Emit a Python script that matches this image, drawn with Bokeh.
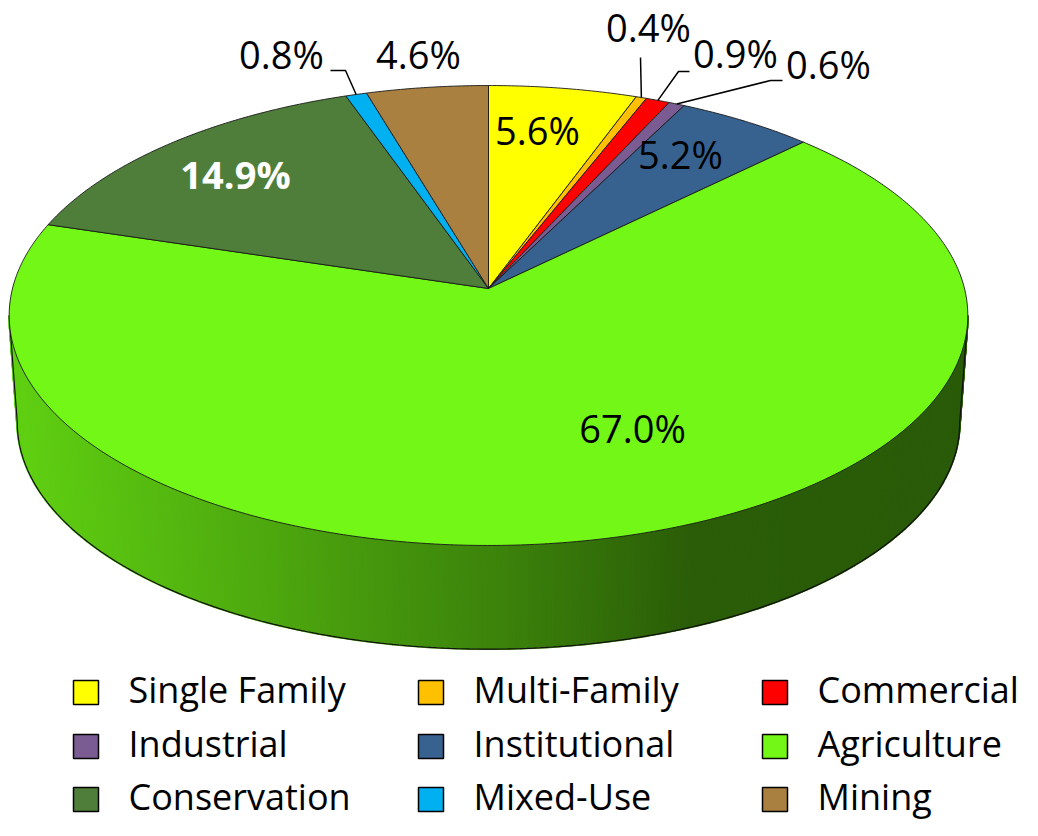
import numpy as np
from bokeh.plotting import figure
from bokeh.models import Range1d, ColumnDataSource
from bokeh.core.properties import value
from bokeh.embed import file_html
from bokeh.resources import INLINE

# ---------------- data ----------------
categories = ["Single Family", "Multi-Family", "Commercial", "Industrial", "Institutional",
              "Agriculture", "Conservation", "Mixed-Use", "Mining"]
shares = [5.6, 0.4, 0.9, 0.6, 5.2, 67.0, 14.9, 0.8, 4.6]
colors = ["#FFFF00", "#FFC000", "#FF0000", "#7A5B92", "#37618F",
          "#72F716", "#4F7E3A", "#00B0F0", "#A9803F"]
labels = ["%.1f%%" % s for s in shares]

# label layout (pixel positions) for each slice
label_x = [537, 648, 735, 828, 680, 632, 235, 281, 418]
label_y = [129, 26, 52, 63, 153, 427, 173, 53, 53]
label_color = ["black"] * 9
label_color[6] = "white"
label_style = ["normal"] * 9
label_style[6] = "bold"
# leader line elbows for small slices
leader_pts = {1: [(640, 57)], 2: [(689, 71), (678, 71)], 3: [(782, 80), (770, 80)],
              7: [(330, 70), (345, 70)]}

# ---------------- geometry ----------------
CX, CY = 488.0, 288.0
A, B, K = 476.0, 226.8, 0.1174
DEPTH, BS = 108.0, 0.983


def proj(phi):
    phi = np.asarray(phi, dtype=float)
    den = 1.0 + K * np.cos(phi)
    return CX + A * np.sin(phi) / den, CY - B * np.cos(phi) / den


def bottom(x, y):
    return CX + BS * (x - CX), CY + BS * (y - CY) + DEPTH


W, H = 1022, 820
p = figure(width=W, height=H, output_backend="svg", toolbar_location=None,
           x_range=Range1d(0, W), y_range=Range1d(H, 0),
           min_border=0)
p.axis.visible = False
p.grid.visible = False
p.outline_line_color = None
p.background_fill_color = "white"
p.border_fill_color = "white"

fr = np.array(shares) / sum(shares)
cum = np.concatenate([[0], np.cumsum(fr)]) * 2 * np.pi

# ---------------- side (gradient strips) ----------------
phi1 = np.arccos(-K)
phi2 = 2 * np.pi - phi1
N = 240
ph = np.linspace(phi1, phi2, N + 1)
tx, ty = proj(ph)
bx, by = bottom(tx, ty)


def slice_of(phi):
    for i in range(len(shares)):
        if cum[i] <= phi <= cum[i + 1]:
            return i
    return 0


fx = [20, 330, 500, 690, 960]
fv = [0.84, 0.64, 0.53, 0.38, 0.37]
sxs, sys_, scol = [], [], []
for i in range(N):
    xm = 0.5 * (tx[i] + tx[i + 1])
    f = np.interp(xm, fx, fv)
    base = colors[slice_of(0.5 * (ph[i] + ph[i + 1]))]
    r, g, b_ = int(base[1:3], 16), int(base[3:5], 16), int(base[5:7], 16)
    scol.append("#%02x%02x%02x" % (int(r * f), int(g * f), int(b_ * f)))
    sxs.append([tx[i], tx[i + 1], bx[i + 1], bx[i]])
    sys_.append([ty[i], ty[i + 1], by[i + 1], by[i]])
p.patches(sxs, sys_, fill_color=scol, line_color=scol, line_width=2.0)
# side outline
ox = [tx[0]] + list(bx) + [tx[-1]]
oy = [ty[0]] + list(by) + [ty[-1]]
p.line(ox, oy, line_color="#111111", line_width=1.2)

# ---------------- top face ----------------
pxs, pys = [], []
for i in range(len(shares)):
    n = max(3, int((cum[i + 1] - cum[i]) * 180 / np.pi * 2))
    a = np.linspace(cum[i], cum[i + 1], n)
    x, y = proj(a)
    pxs.append([CX] + list(x))
    pys.append([CY] + list(y))
p.patches(pxs, pys, fill_color=colors, line_color="#1a1a1a", line_width=1.0,
          line_alpha=0.9)

# ---------------- leader lines ----------------
for i, pts in leader_pts.items():
    mx, my = proj(0.5 * (cum[i] + cum[i + 1]))
    xs = [q[0] for q in pts] + [float(mx)]
    ys = [q[1] for q in pts] + [float(my)]
    p.line(xs, ys, line_color="black", line_width=1.5)

# ---------------- labels ----------------
lab = ColumnDataSource(dict(x=label_x, y=label_y, t=labels, c=label_color, s=label_style))
p.text("x", "y", text="t", source=lab, text_color="c", text_font_style="s",
       text_font=value("Open Sans"), text_font_size="38px",
       text_align="center", text_baseline="middle")

# ---------------- legend ----------------
col_box = [85.5, 430.5, 774.5]
col_txt = [128, 473, 817]
row_y = [692, 746, 799]
lx, ly, bl, br, bt, bb = [], [], [], [], [], []
for i, name in enumerate(categories):
    r, c = divmod(i, 3)
    bl.append(col_box[c] - 12.5)
    br.append(col_box[c] + 12.5)
    bt.append(row_y[r] - 12)
    bb.append(row_y[r] + 12)
    lx.append(col_txt[c])
    ly.append(row_y[r] - 3)
p.quad(left=bl, right=br, top=bt, bottom=bb, fill_color=colors,
       line_color="black", line_width=1.5)
p.text(lx, ly, text=categories, text_font=value("Open Sans"), text_font_size="36px",
       text_color="black", text_align="left", text_baseline="middle")

open("out.html", "w").write(file_html(p, INLINE))
